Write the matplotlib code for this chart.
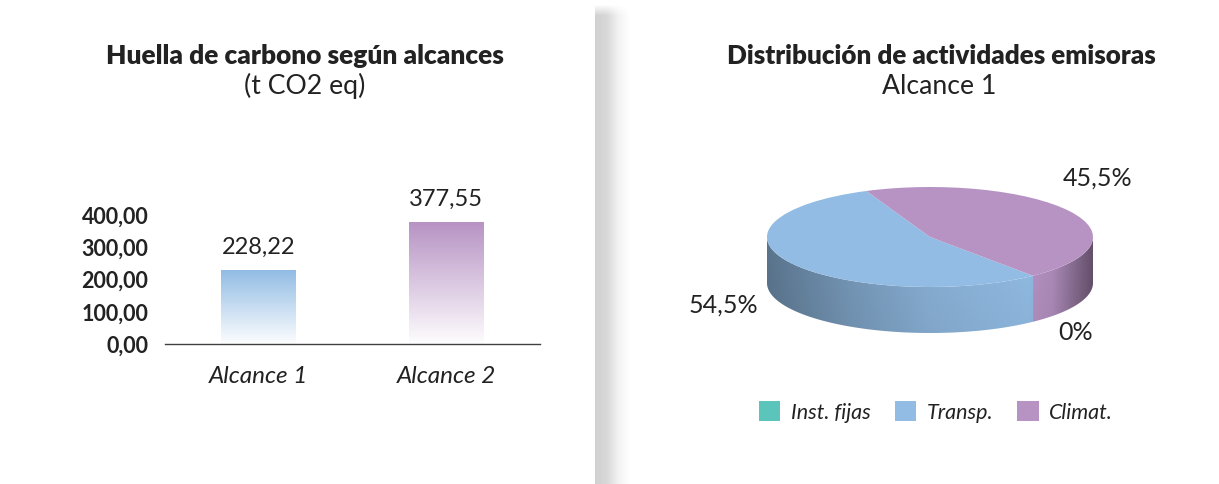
import matplotlib.pyplot as plt
import numpy as np
from matplotlib.colors import to_rgb
from matplotlib.patches import Patch, Polygon

plt.rcParams['font.family'] = ['Lato', 'DejaVu Sans']

# bar chart data
bar_labels = ['Alcance 1', 'Alcance 2']
bar_values = [228.22, 377.55]
bar_colors = ['#92BCE4', '#B793C4']
y_ticks = [0, 100, 200, 300, 400]

# pie data
pie_labels = ['Inst. fijas', 'Transp.', 'Climat.']
pie_values = [0.0, 54.5, 45.5]
pie_colors = ['#5BC5BB', '#92BCE4', '#B793C4']

TXT = '#222222'
W, H = 1219, 484
fig = plt.figure(figsize=(W / 100, H / 100), dpi=100)


def box(x0, y0, x1, y1):
    # pixel box (origin top-left) -> figure fraction rect
    return [x0 / W, 1 - y1 / H, (x1 - x0) / W, (y1 - y0) / H]


def ptext(x, y, s, **kw):
    fig.text(x / W, 1 - y / H, s, ha='center', va='center', color=TXT, **kw)


# background + divider shadow
bg = fig.add_axes([0, 0, 1, 1], zorder=-10)
shade = np.interp(np.arange(W), [0, 594, 595, 606, 618, 630, W - 1],
                  [1, 1, 0.82, 0.84, 0.95, 1, 1])
topfade = np.interp(np.arange(H), [0, 4, 15, H - 1], [0, 0, 1, 1])
img = 1 - np.outer(topfade, 1 - shade)
bg.imshow(img, cmap='gray', vmin=0, vmax=1, aspect='auto')
bg.axis('off')

# ---- left: bars
ax = fig.add_axes(box(165, 199, 540, 344))
x = np.arange(len(bar_values))
bars = ax.bar(x, bar_values, width=0.4, color='none', edgecolor='none')
t = np.linspace(0.02, 1, 256)[:, None, None]
for b, c in zip(bars, bar_colors):
    rgb = np.array(to_rgb(c))
    col = 1 - t * (1 - rgb)
    im = ax.imshow(col, origin='lower', aspect='auto', zorder=2,
                   extent=(b.get_x(), b.get_x() + b.get_width(), 0, b.get_height()))
    im.set_clip_path(b)
for xi, v in zip(x, bar_values):
    ax.annotate(f'{v:.2f}'.replace('.', ','), (xi, v), xytext=(0, 9),
                textcoords='offset points', ha='center', va='bottom',
                fontsize=17, color=TXT)
ax.set_xlim(-0.5, 1.5)
ax.set_ylim(0, 450)
ax.set_xticks(x)
ax.set_xticklabels(bar_labels, fontsize=17.5, style='italic', color=TXT)
ax.set_yticks(y_ticks)
ax.set_yticklabels([f'{v:.2f}'.replace('.', ',') for v in y_ticks],
                   fontsize=15.5, fontweight='bold', color=TXT)
ax.tick_params(length=0)
ax.tick_params(axis='y', pad=12)
ax.tick_params(axis='x', pad=16)
for s in ['top', 'right', 'left']:
    ax.spines[s].set_visible(False)
ax.spines['bottom'].set_color('#404040')
ax.spines['bottom'].set_linewidth(1)
ax.patch.set_alpha(0)

ptext(305, 56, 'Huella de carbono según alcances', fontsize=18.9, fontweight='heavy')
ptext(305, 86, '(t CO2 eq)', fontsize=19.2)

# ---- right: 3d pie
cx, cy, rx, ry, depth = 930, 237, 163, 50, 46
pax = fig.add_axes(box(700, 150, 1160, 350))
wedges, _ = pax.pie(pie_values, colors=pie_colors, startangle=113,
                    counterclock=True, wedgeprops=dict(linewidth=0))

d = depth / ry
xs = np.linspace(-1, 1, 400)
f = np.interp(xs, [-1, -0.5, 0, 0.6, 0.75, 1], [0.62, 0.8, 0.93, 1.0, 0.95, 0.55])
for w, c in zip(wedges, pie_colors):
    for lo, hi in [(180, 360), (540, 720)]:
        a0, a1 = max(w.theta1, lo), min(w.theta2, hi)
        if a1 <= a0:
            continue
        th = np.radians(np.linspace(a0, a1, 120))
        top = np.column_stack([np.cos(th), np.sin(th)])
        bot = top[::-1] - [0, d]
        poly = Polygon(np.vstack([top, bot]), closed=True, facecolor='none',
                       edgecolor='none')
        pax.add_patch(poly)
        rgb = np.array(to_rgb(c))
        vert = np.linspace(0.95, 1.0, 20)[:, None, None]
        side = np.clip(rgb[None, None, :] * f[None, :, None] * vert, 0, 1)
        im = pax.imshow(side, origin='lower', aspect='auto', zorder=0.5,
                        extent=(-1, 1, -1 - d, 0))
        im.set_clip_path(poly)
pax.set_aspect('auto')
pax.set_xlim(-(cx - 700) / rx, (1160 - cx) / rx)
pax.set_ylim(-(350 - cy) / ry, (cy - 150) / ry)
pax.axis('off')


def pct(v):
    return '0%' if v == 0 else f'{v:.1f}%'.replace('.', ',')


ptext(1076, 332, pct(pie_values[0]), fontsize=18)
ptext(723, 305, pct(pie_values[1]), fontsize=18)
ptext(1098, 178, pct(pie_values[2]), fontsize=18)

ptext(941, 56, 'Distribución de actividades emisoras', fontsize=18.7, fontweight='heavy')
ptext(939, 86, 'Alcance 1', fontsize=19.2)

handles = [Patch(facecolor=c, label=l) for c, l in zip(pie_colors, pie_labels)]
fig.legend(handles=handles, loc='center', bbox_to_anchor=(936 / W, 1 - 412 / H),
           ncol=3, frameon=False, prop=dict(style='italic', size=15.5),
           handlelength=1.0, handleheight=1.0, columnspacing=1.1,
           handletextpad=0.5, labelcolor=TXT)

fig.savefig('out.png', dpi=100)
